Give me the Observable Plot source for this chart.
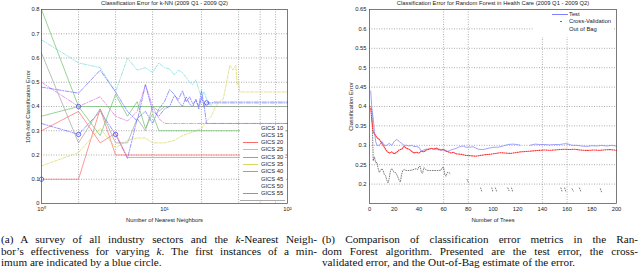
<!DOCTYPE html>
<html><head><meta charset="utf-8">
<script src="https://cdn.jsdelivr.net/npm/d3@7"></script>
<script src="https://cdn.jsdelivr.net/npm/@observablehq/plot@0.6"></script>
<style>
body{margin:0;background:#fff;}
#wrap{position:relative;width:640px;height:272px;overflow:hidden;font-family:"Liberation Sans",Arial,sans-serif;}
.pl{position:absolute;top:0;}
.leg{position:absolute;background:#fff;font-size:5.8px;color:#222;}
.leg .row{position:absolute;left:0;white-space:nowrap;line-height:7px;height:7px;}
.leg .sw{position:absolute;top:3px;height:0;}
.cap{position:absolute;top:234px;font-family:"Liberation Serif","DejaVu Serif",serif;font-size:11.2px;line-height:11.6px;color:#111;}
.cap div{text-align:justify;text-align-last:justify;white-space:nowrap;}
.cap div.last{text-align-last:left;}
</style></head>
<body><div id="wrap">
<div id="left" class="pl" style="left:0"></div>
<div id="right" class="pl" style="left:320px"></div>
</div>
<script>
// ---------- (a) k-NN data ----------
const knnTitle = "Classification Error for k-NN (2009 Q1 - 2009 Q2)";
const knnLabels = ["GICS 10","GICS 15","GICS 20","GICS 25","GICS 30","GICS 35","GICS 40","GICS 45","GICS 50","GICS 55"];
const gics10 = [[1,0.33],[2,0.285],[3,0.38],[4,0.285],[5,0.185],[6,0.35],[7,0.38],[8,0.33],[9,0.39],[10,0.42],[11,0.47],[12,0.45],[13,0.42],[14,0.40],[15,0.44],[16,0.41],[17,0.40],[18,0.43],[19,0.39],[20,0.44],[21,0.40],[22,0.33],[100,0.33]];
const gics15 = [[1,0.80],[2,0.40],[100,0.40]];
const gics20 = [[1,0.10],[2,0.10],[3,0.39],[4,0.20],[100,0.20]];
const gics25 = [[1,0.675],[2,0.58],[3,0.56],[4,0.46],[5,0.60],[6,0.55],[7,0.56],[8,0.54],[9,0.58],[10,0.56],[11,0.555],[12,0.53],[13,0.55],[14,0.54],[15,0.52],[16,0.50],[17,0.49],[18,0.51],[19,0.47],[20,0.44],[21,0.46],[22,0.43],[23,0.41],[24,0.405],[25,0.42],[100,0.42]];
const gics30 = [[1,0.50],[2,0.40],[3,0.44],[4,0.36],[5,0.34],[6,0.38],[7,0.49],[8,0.40],[9,0.35],[10,0.33],[100,0.33]];
const gics35 = [[1,0.155],[2,0.21],[3,0.31],[4,0.23],[5,0.26],[6,0.27],[7,0.27],[8,0.25],[9,0.25],[10,0.25],[12,0.26],[14,0.28],[16,0.29],[18,0.30],[20,0.31],[22,0.34],[24,0.36],[26,0.40],[28,0.42],[30,0.43],[32,0.50],[34,0.57],[36,0.55],[38,0.57],[39,0.49],[40,0.50],[41,0.46],[100,0.46]];
const gics40 = [[1,0.62],[2,0.25],[3,0.39],[4,0.25],[5,0.25],[6,0.35],[7,0.30],[8,0.40],[9,0.38],[10,0.40],[100,0.40]];
const gics45 = [[1,0.48],[2,0.455],[3,0.55],[4,0.46],[5,0.38],[6,0.34],[7,0.49],[8,0.38],[9,0.36],[10,0.39],[11,0.40],[12,0.445],[13,0.43],[14,0.465],[15,0.42],[16,0.44],[17,0.41],[18,0.425],[19,0.40],[20,0.465],[21,0.40],[22,0.415],[100,0.415]];
const gics50 = [[1,0.36],[2,0.40],[3,0.28],[4,0.45],[5,0.36],[6,0.42],[7,0.31],[8,0.37],[9,0.30],[100,0.30]];
const gics55 = [[1,0.30],[2,0.38],[3,0.25],[4,0.29],[5,0.19],[100,0.19]];
const knnSeries = [gics10,gics15,gics20,gics25,gics30,gics35,gics40,gics45,gics50,gics55];
const knnMinima = [[1,0.10],[2,0.40],[2,0.285],[4,0.285],[22,0.415]];
const knnXTicks = [1,10,100];
const knnXTickLabels = ["10\u2070","10\u00b9","10\u00b2"];
const knnYTicks = [0,0.1,0.2,0.3,0.4,0.5,0.6,0.7,0.8];
const knnGridX = [2,4,8,20,40,60,80];

// ---------- (b) Random forest data ----------
const rfTitle = "Classification Error for Random Forest in Health Care (2009 Q1 - 2009 Q2)";
const rfLabels = ["Test","Cross-Validation","Out of Bag"];
const rfTest = [[1,0.44],[2,0.39],[3,0.37],[4,0.335],[5,0.31],[6,0.30],[8,0.30],[10,0.31],[12,0.30],[14,0.30],[16,0.305],[18,0.30],[20,0.31],[22,0.315],[24,0.31],[26,0.305],[28,0.30],[30,0.30],[32,0.298],[34,0.30],[36,0.297],[38,0.297],[40,0.295],[42,0.285],[44,0.288],[46,0.29],[48,0.29],[50,0.292],[52,0.29],[54,0.29],[56,0.288],[58,0.288],[60,0.287],[62,0.285],[64,0.285],[66,0.288],[68,0.29],[70,0.292],[72,0.295],[74,0.297],[76,0.298],[78,0.295],[80,0.295],[84,0.296],[88,0.29],[92,0.289],[96,0.292],[100,0.295],[104,0.295],[108,0.298],[112,0.302],[116,0.303],[120,0.302],[122,0.30],[125,null],[130,0.30],[134,0.303],[138,0.302],[142,0.302],[146,0.301],[150,0.302],[154,0.302],[158,0.304],[160,0.304],[164,0.30],[168,0.30],[172,0.298],[176,0.297],[180,0.299],[184,0.298],[188,0.30],[192,0.298],[196,0.30],[200,0.298]];
const rfCV = [[1,0.395],[2,0.36],[3,0.335],[4,0.33],[5,0.325],[6,0.32],[8,0.315],[10,0.305],[12,0.295],[14,0.285],[16,0.28],[18,0.283],[20,0.278],[22,0.282],[24,0.288],[26,0.29],[28,0.297],[30,0.292],[32,0.29],[34,0.285],[36,0.28],[38,0.282],[40,0.28],[42,0.285],[44,0.283],[46,0.288],[48,0.29],[50,0.292],[52,0.29],[54,0.293],[56,0.29],[58,0.288],[60,0.29],[62,0.285],[64,0.283],[66,0.28],[68,0.282],[70,0.278],[74,0.277],[78,0.274],[82,0.273],[86,0.272],[90,0.274],[94,0.276],[98,0.277],[102,0.279],[106,0.281],[110,0.28],[114,0.279],[118,0.281],[122,0.283],[126,0.284],[130,0.285],[134,0.286],[138,0.287],[142,0.288],[146,0.287],[150,0.288],[154,0.289],[158,0.29],[162,0.289],[166,0.29],[170,0.288],[174,0.287],[178,0.287],[182,0.288],[186,0.287],[190,0.288],[194,0.289],[198,0.288],[200,0.287]];
const rfOOB = [[1,0.40],[2,0.39],[3,0.26],[4,0.27],[5,0.255],[6,0.256],[7,0.24],[8,0.23],[9,0.235],[10,0.24],[11,0.235],[12,0.225],[13,0.222],[14,0.21],[15,0.203],[16,0.215],[17,0.235],[18,0.24],[19,0.235],[20,0.23],[21,0.23],[22,0.225],[23,0.218],[24,0.21],[25,0.205],[26,0.225],[27,0.235],[28,0.238],[29,0.236],[30,0.235],[32,0.235],[34,0.236],[36,0.238],[38,0.24],[39,0.237],[40,0.245],[41,0.246],[42,0.23],[43,0.228],[44,0.243],[45,0.24],[46,0.236],[48,0.235],[50,0.235],[52,0.235],[54,0.235],[56,0.235],[58,0.236],[59,0.243],[60,0.243],[61,0.223],[62,0.22],[63,0.23],[64,0.23],[65,0.228],[66,0.225],[67,null],[79,0.212],[80,0.205],[81,null],[90,0.19],[91,0.18],[92,null],[99,0.19],[100,0.18],[101,null],[102,0.19],[103,0.18],[104,null],[112,0.19],[113,0.183],[114,null],[115,0.19],[116,0.18],[117,null],[155,0.19],[156,0.18],[157,null],[158,0.19],[159,0.18],[160,null],[164,0.188],[165,0.182],[166,null],[170,0.19],[171,0.182],[172,null],[187,0.188],[188,0.178]];
const rfXTicks = [0,20,40,60,80,100,120,140,160,180,200];
const rfYTicks = [0.2,0.25,0.3,0.35,0.4,0.45,0.5,0.55,0.6,0.65];
const rfGridX = [60,80,140,160];

// ---------- styles ----------
const knnColors = ["#6a6aff","#6cc06c","#ff6a6a","#7adada","#e070e0","#d8d860","#a0a0a0","#6a6aff","#6cc06c","#ff6a6a"];
const knnDash = ["4,1.5,1,1.5",null,null,"4,1.5,1,1.5","4,1.5,1,1.5","3,1.5",null,"4,1.5,1,1.5",null,null];
const knnSwatch = [false,false,true,true,true,true,true,false,false,true];
const fontStyle = {fontFamily:"'Liberation Sans',Arial,sans-serif",fontSize:"5.8px",background:"none",color:"#222",overflow:"visible"};
const gridStyle = {stroke:"#777",strokeDasharray:"1,1.5",strokeWidth:0.6};
const fmtTick = d => String(+d.toFixed(2));

const left = Plot.plot({
  width:320,height:226,marginLeft:41,marginRight:33,marginTop:9,marginBottom:23,
  style:fontStyle,
  x:{type:"log",domain:[1,100],ticks:knnXTicks,tickFormat:(d)=>knnXTickLabels[knnXTicks.indexOf(d)],tickSize:0,tickPadding:3,
     label:"Number of Nearest Neighbors",labelAnchor:"center",labelArrow:"none",labelOffset:18},
  y:{domain:[0,0.8],ticks:knnYTicks,tickFormat:fmtTick,tickSize:0,tickPadding:2,
     label:"10th-fold Classification Error",labelAnchor:"center",labelArrow:"none",labelOffset:16},
  marks:[
    Plot.ruleY(knnYTicks.slice(1,-1),gridStyle),
    Plot.ruleX(knnGridX,gridStyle),
    ...knnSeries.map((s,i)=>Plot.line(s,{x:d=>d[0],y:d=>d[1],stroke:knnColors[i],strokeWidth:0.7,strokeDasharray:knnDash[i]||undefined})),
    Plot.dot(knnMinima,{x:d=>d[0],y:d=>d[1],r:2.2,stroke:"#4a4aff",strokeWidth:0.8,fill:"none"}),
    Plot.frame({stroke:"#444",strokeWidth:0.7}),
    Plot.text([knnTitle],{frameAnchor:"top",dy:-6,lineAnchor:"middle",fill:"#222"})
  ]
});
document.getElementById("left").appendChild(left);

const right = Plot.plot({
  width:320,height:226,marginLeft:49,marginRight:24,marginTop:9,marginBottom:23,
  style:fontStyle,
  x:{domain:[0,200],ticks:rfXTicks,tickSize:0,tickPadding:3,
     label:"Number of Trees",labelAnchor:"center",labelArrow:"none",labelOffset:18},
  y:{domain:[0.15,0.65],ticks:rfYTicks,tickFormat:fmtTick,tickSize:0,tickPadding:3,
     label:"Classification Error",labelAnchor:"center",labelArrow:"none",labelOffset:21},
  marks:[
    Plot.ruleY(rfYTicks.slice(0,-1),gridStyle),
    Plot.ruleX(rfGridX,gridStyle),
    Plot.line(rfOOB,{x:d=>d[0],y:d=>d[1],stroke:"#444",strokeWidth:0.7,strokeDasharray:"0.8,1.6"}),
    Plot.line(rfTest,{x:d=>d[0],y:d=>d[1],stroke:"#7a7aff",strokeWidth:0.7}),
    Plot.line(rfCV,{x:d=>d[0],y:d=>d[1],stroke:"#ff3030",strokeWidth:1.1,strokeDasharray:"1,1.2"}),
    Plot.frame({stroke:"#444",strokeWidth:0.7}),
    Plot.text([rfTitle],{frameAnchor:"top",dy:-6,lineAnchor:"middle",fill:"#222"})
  ]
});
document.getElementById("right").appendChild(right);

// ---------- legends ----------
const wrap = document.getElementById("wrap");
function legend(x,y,w,h,labels,swatches,textX,step,extraCss){
  const box=document.createElement("div");
  box.className="leg";
  box.style.cssText=`left:${x}px;top:${y}px;width:${w}px;height:${h}px;${extraCss||""}`;
  labels.forEach((lab,i)=>{
    const r=document.createElement("div");
    r.className="row";
    r.style.top=(3+i*step-3.5)+"px";
    r.style.width=w+"px";
    const t=document.createElement("span");
    t.textContent=lab;
    t.style.cssText=`position:absolute;left:${textX}px;top:0;`;
    r.appendChild(t);
    const sw=swatches[i];
    if(sw){
      const s=document.createElement("div");
      s.className="sw";
      s.style.cssText+=sw;
      r.appendChild(s);
    }
    box.appendChild(r);
  });
  wrap.appendChild(box);
}
legend(240,125,45,75,knnLabels,
  knnLabels.map((_,i)=>knnSwatch[i]?`left:3px;width:15px;border-top:1.2px solid ${knnColors[i]};`:null),
  21,7.3,"border-bottom:1px solid #aaa;");
legend(533,11,81,26,rfLabels,
  [`left:19px;width:16px;border-top:1.4px solid #8080ff;`,`left:27px;width:1.5px;height:1.5px;top:2.5px;background:#ff2a2a;`,null],
  36,7.5,"");

// ---------- captions ----------
const capA = ["(a) A survey of all industry sectors and the <i>k</i>-Nearest Neigh-",
  "bor\u2019s effectiveness for varying <i>k</i>. The first instances of a min-",
  "imum are indicated by a blue circle."];
const capB = ["(b) Comparison of classification error metrics in the Ran-",
  "dom Forest algorithm. Presented are the test error, the cross-",
  "validated error, and the Out-of-Bag estimate of the error."];
function caption(x,w,lines){
  const c=document.createElement("div");
  c.className="cap";
  c.style.left=x+"px"; c.style.width=w+"px";
  c.innerHTML=lines.map((l,i)=>`<div class="${i===lines.length-1?"last":""}">${l}</div>`).join("");
  wrap.appendChild(c);
}
caption(1,316,capA);
caption(322,316,capB);
</script>
</body></html>
